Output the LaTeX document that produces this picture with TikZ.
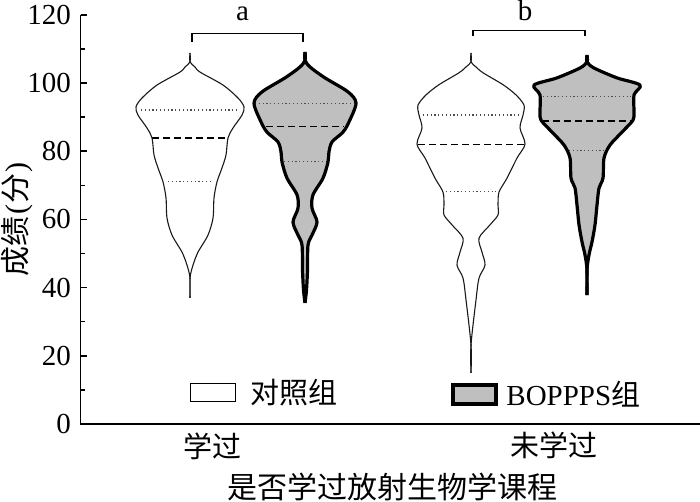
\documentclass[tikz,border=0pt]{standalone}
\usepackage{fontspec}
\setmainfont{Liberation Serif}
\newfontfamily\cjk{Noto Sans CJK SC}
\usetikzlibrary{positioning}
\tikzset{
  axisline/.style={line width=1.5pt},
  ctrl/.style={line width=1.1pt, black!90, line join=round},
  bop/.style={line width=3.2pt, line join=round},
  bopfill/.style={fill=black!25},
  qdot/.style={line width=1.2pt, black!70, dash pattern=on 1.2pt off 2.6pt},
  qdash/.style={line width=1.5pt, dash pattern=on 7pt off 4pt},
  bracket/.style={line width=1.2pt},
  legbox/.style={draw, inner sep=0pt, minimum width=45pt, minimum height=18pt},
  siglab/.style={anchor=base, inner sep=0pt, text height=13pt, text depth=0pt}
}
% half of a violin, mirrored about its centre
\newcommand{\violin}[3]{%
  \foreach \s in {1,-1}{
    \begin{scope}[shift={(#1,0)},xscale=\s]
      \draw[#2] plot[smooth] coordinates {#3};
    \end{scope}}}
\newcommand{\violinfill}[2]{%
  \foreach \s in {1,-1}{
    \begin{scope}[shift={(#1,0)},xscale=\s]
      \fill[bopfill] plot[smooth] coordinates {#2} -- cycle;
    \end{scope}}}

\begin{document}
\begin{tikzpicture}[x=1pt,y=3.41pt,font=\fontsize{29}{34}\selectfont]
  \useasboundingbox (0,-22.58) rectangle (700,124.34);

  % axes
  \coordinate (origin) at (80.5,0);
  \coordinate (ytop) at (80.5,120);
  \coordinate (xend) at (700,0);
  \draw[axisline] (ytop) -- (origin) -- (xend);
  \foreach \t in {0,20,...,120}{
    \draw[axisline] (80.5,\t) -- ++(6,0);
    \node[anchor=east, inner sep=0pt] (tick-\t) at (71,\t) {\t};
  }
  \foreach \t in {10,30,...,110}
    \draw[axisline] (80.5,\t) -- ++(4,0);

  % fills of the BOPPPS violins
  \violinfill{305}{(0,109.1) (0,106.7) (5,104.7) (20,101.5) (43,97.4) (51,94.1) (44,88.6) (38,85.6) (27,82.7) (24,79.8) (23,76.8) (18,72.1) (8,67.2) (7,63.3) (12,59.2) (7,55.4) (3,52.5) (2.5,45.2) (1.5,39.3) (0,35.5)}
  \violinfill{587}{(0,108.2) (0,106.2) (7,104.4) (30,101.5) (53,99.4) (47,96.5) (47,91.5) (46,89.1) (35,85.6) (23,81.8) (17,78) (16,72.1) (12,69.2) (10,64.2) (8,58.4) (5,53.4) (2,49.6) (0,45.2) (0,37.8)}

  % quartiles and medians
  \foreach \c/\w/\v in {190/49/92.1, 190/22/71.0, 305/50/94.0, 305/21/76.9, 471/48/90.6, 471/25/68.1, 587/44/96.0, 587/18/80.1}
    \draw[qdot] (\c-\w,\v) -- (\c+\w,\v);
  \foreach \c/\w/\v in {190/38/83.9, 305/39/87.2, 471/53/82.0, 587/45/88.9}
    \draw[qdash] (\c-\w,\v) -- (\c+\w,\v);

  % outlines
  \violin{190}{ctrl}{(0,108.8) (0,106.2) (5,104.7) (10,103.2) (33,99.4) (48,95.6) (54,93) (52,90.6) (43,86.8) (38,83.9) (36,78.9) (32,75.1) (27,71) (24,66.3) (23,60.4) (18,55.4) (8,50.4) (3,46.6) (0,42.8) (0,37)}
  \violin{305}{bop}{(0,109.1) (0,106.7) (5,104.7) (20,101.5) (43,97.4) (51,94.1) (44,88.6) (38,85.6) (27,82.7) (24,79.8) (23,76.8) (18,72.1) (8,67.2) (7,63.3) (12,59.2) (7,55.4) (3,52.5) (2.5,45.2) (1.5,39.3) (0,35.5)}
  \violin{471}{ctrl}{(0,108.8) (0,106.2) (5,104.7) (12,103) (32,99.5) (45,96.5) (53,93.5) (52,90.6) (49,86.8) (54,82.1) (46,78) (36,72.1) (28,68) (27,64.2) (27,61.3) (19,58.4) (8,54.5) (11,50.4) (14,46.6) (8,42.8) (5,36.4) (0,23.2) (0,15)}
  \violin{587}{bop}{(0,108.2) (0,106.2) (7,104.4) (30,101.5) (53,99.4) (47,96.5) (47,91.5) (46,89.1) (35,85.6) (23,81.8) (17,78) (16,72.1) (12,69.2) (10,64.2) (8,58.4) (5,53.4) (2,49.6) (0,45.2) (0,37.8)}

  % significance brackets
  \coordinate (a-l) at (192,112);
  \coordinate (a-r) at (303,112);
  \draw[bracket] (a-l) -- ++(0,2.4) -| (a-r);
  \node[siglab] (lab-a) at (242.5,118.3) {a};
  \coordinate (b-l) at (473,113.8);
  \coordinate (b-r) at (585,113.8);
  \draw[bracket] (b-l) -- ++(0,1.7) -| (b-r);
  \node[siglab] (lab-b) at (525,118.3) {b};

  % legend
  \node[legbox, line width=1.2pt] (leg-ctrl) at (213,9.24) {};
  \node[inner sep=0pt, right=14pt of leg-ctrl] (leg-ctrl-txt) {\cjk 对照组};
  \node[legbox, bopfill, line width=3.5pt, minimum width=43pt, minimum height=19pt] (leg-bop) at (474.5,8.65) {};
  \node[inner sep=0pt, right=8.5pt of leg-bop] (leg-bop-txt) {BOPPPS\cjk 组};

  % axis labels
  \node (cat-1) at (212,-6.4) {\cjk 学过};
  \node (cat-2) at (554,-6.4) {\cjk 未学过};
  \node[font=\cjk\fontsize{30}{34}\selectfont] (xlab) at (392,-18.5) {是否学过放射生物学课程};
  \node[rotate=90, font=\fontsize{30}{34}\selectfont] (ylab) at (17,60) {{\cjk 成绩}\kern2pt(\kern1pt{\cjk 分}\kern1pt)};
\end{tikzpicture}
\end{document}
